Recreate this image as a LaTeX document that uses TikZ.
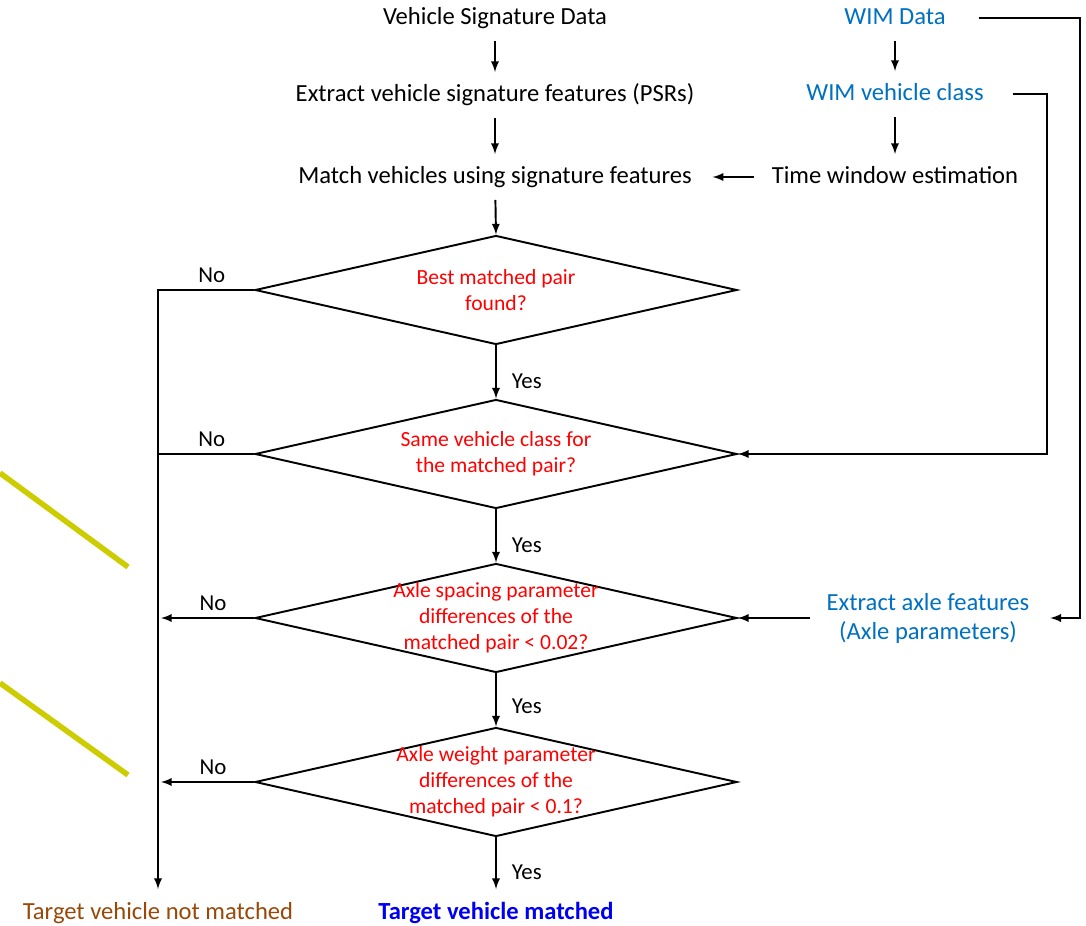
\documentclass[tikz,border=0pt]{standalone}
\usepackage{fontspec}
\setmainfont{Carlito}
\usetikzlibrary{shapes.geometric}
\definecolor{wimblue}{RGB}{0,112,192}
\definecolor{condred}{RGB}{255,0,0}
\definecolor{okblue}{RGB}{0,0,240}
\definecolor{nobrown}{RGB}{152,72,7}
\definecolor{marker}{RGB}{204,204,0}
\begin{document}
\begin{tikzpicture}[
  x=0.02cm, y=-0.02cm,
  line width=1.1pt,
  txt/.style={inner sep=0pt, minimum height=0.88cm, text height=1.9ex, text depth=0.3ex, font=\fontsize{14}{17}\selectfont},
  blk/.style={inner sep=0pt, align=center, font=\fontsize{14}{16.5}\selectfont},
  cond/.style={diamond, draw, inner sep=0pt, minimum width=9.64cm, minimum height=2.18cm},
  qtext/.style={align=center, inner sep=0pt, text=condred, font=\fontsize{12.3}{14.8}\selectfont},
  yn/.style={inner sep=0pt, font=\fontsize{13}{15}\selectfont}
]
  \useasboundingbox (0,0) rectangle (1086,926);

  % left column
  \node[txt] (vsd) at (495,18) {Vehicle Signature Data};
  \node[txt] (evs) at (495,95) {Extract vehicle signature features (PSRs)};
  \node[txt] (mv)  at (495,177) {Match vehicles using signature features};

  % right column
  \node[txt, text=wimblue] (wim) at (895,18) {WIM Data};
  \node[txt, text=wimblue] (wvc) at (895,94) {WIM vehicle class};
  \node[txt] (twe) at (895,177) {Time window estimation};
  \node[blk, text=wimblue] (eaf) at (928,618) {Extract axle features\\(Axle parameters)};

  % decisions
  \node[cond] (d1) at (496,290) {};
  \node[cond] (d2) at (496,454) {};
  \node[cond] (d3) at (496,618) {};
  \node[cond] (d4) at (496,782) {};
  \node[qtext] (q1) at (d1) {Best matched pair\\found?};
  \node[qtext] (q2) at (d2) {Same vehicle class for\\the matched pair?};
  \node[qtext] (q3) at (d3) {Axle spacing parameter\\differences of the\\matched pair < 0.02?};
  \node[qtext] (q4) at (d4) {Axle weight parameter\\differences of the\\matched pair < 0.1?};

  % outcomes
  \node[txt, minimum height=0.92cm, text=nobrown] (notm) at (158,913) {Target vehicle not matched};
  \node[txt, minimum height=0.92cm, text=okblue, font=\fontsize{14}{17}\selectfont\bfseries] (okm) at (496,913) {Target vehicle matched};

  \coordinate (wimr) at (1080,18);
  \coordinate (wvcr) at (1047,94);

  \draw[-latex] (vsd) -- (evs);
  \draw[-latex] (evs) -- (mv);
  \draw[-latex] (mv) -- (d1.north);
  \draw[-latex] (wim.south -| wvc.north) -- (wvc.north);
  \draw[-latex] (wvc) -- (twe);
  \draw[-latex, shorten <=0.34cm, shorten >=0.4cm] (twe.west) -- (mv.east);

  \draw[-latex] (d1.south) -- node[yn, right=0.3cm, pos=0.67] (y1) {Yes} (d2.north);
  \draw[-latex] (d2.south) -- node[yn, right=0.3cm, pos=0.67] (y2) {Yes} (d3.north);
  \draw[-latex] (d3.south) -- node[yn, right=0.3cm, pos=0.62] (y3) {Yes} (d4.north);
  \draw[-latex] (d4.south) -- node[yn, right=0.3cm, pos=0.67] (y4) {Yes} (okm.north);

  \draw[-latex] (d1.west) -| node[yn, above=0.12cm, pos=0.22] (n1) {No} (notm.north);
  \draw (d2.west) -- node[yn, above=0.12cm, pos=0.44] (n2) {No} (d2.west -| notm.north);
  \draw[-latex] (d3.west) -- node[yn, above=0.12cm, pos=0.44] (n3) {No} ([xshift=0.06cm]d3.west -| notm.north);
  \draw[-latex] (d4.west) -- node[yn, above=0.12cm, pos=0.44] (n4) {No} ([xshift=0.06cm]d4.west -| notm.north);

  \draw[-latex, shorten <=0.64cm, shorten >=0.4cm] (wim.east) -- (wimr) |- (eaf.east);
  \draw[-latex, shorten <=0.56cm] (wvc.east) -- (wvcr) |- (d2.east);
  \draw[-latex, shorten <=0.32cm] (eaf.west) -- (d3.east);

  % yellow strokes
  \draw[marker, line width=0.11cm] (0,473) -- (128,567);
  \draw[marker, line width=0.11cm] (0,683) -- (128,775);
\end{tikzpicture}
\end{document}
